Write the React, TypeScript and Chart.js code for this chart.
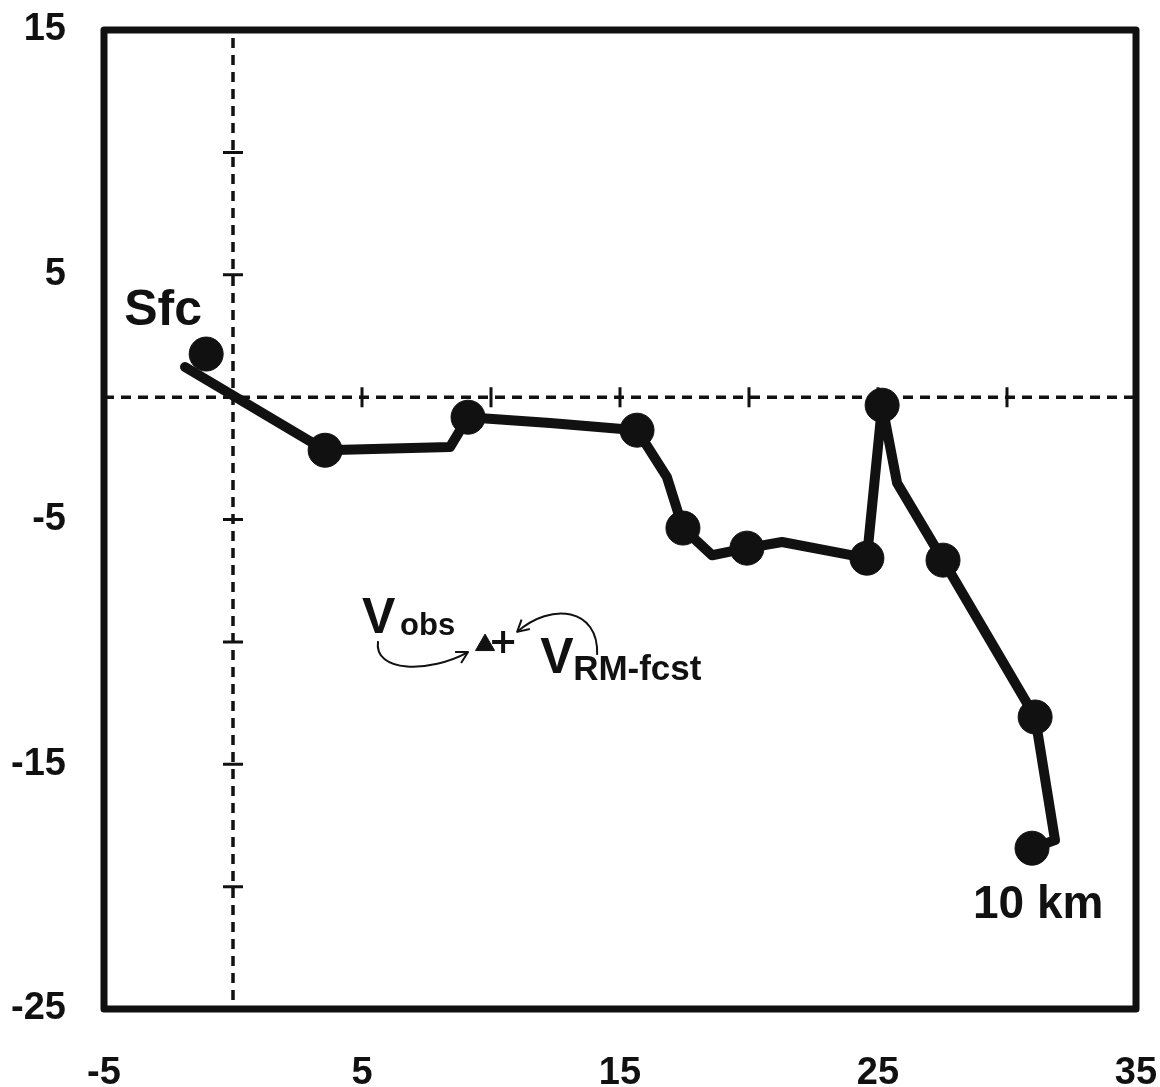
import React, { useEffect, useRef } from "react";
import { Chart, registerables } from "chart.js";

Chart.register(...registerables);

const FONT = '"Liberation Sans", Arial, Helvetica, sans-serif';
const INK = "#111111";

// Hodograph path (u, v in m/s)
const pathU = [-1.86, 3.57, 8.41, 9.11, 12.29, 15.66, 16.82, 17.44, 18.57, 19.92, 21.28, 24.57, 25.16, 25.74, 27.52, 31.09, 31.86, 30.97];
const pathV = [1.23, -2.17, -2.04, -0.82, -1.06, -1.35, -3.27, -5.35, -6.46, -6.17, -5.92, -6.58, -0.33, -3.51, -6.66, -13.07, -18.1, -18.43];

// Level markers
const markerU = [-1.04, 3.57, 9.11, 15.66, 17.44, 19.92, 24.57, 25.16, 27.52, 31.09, 30.97];
const markerV = [1.76, -2.17, -0.82, -1.35, -5.35, -6.17, -6.58, -0.33, -6.66, -13.07, -18.43];

// Storm motions
const obsU = [9.77];
const obsV = [-10.13];
const rmU = [10.47];
const rmV = [-10.0];

// Axis ticks
const xTicks = [-5, 5, 15, 25, 35];
const yTicks = [15, 5, -5, -15, -25];
const axisMarks = [-20, -15, -10, -5, 5, 10, 15, 20, 25, 30];

const toPts = (u: number[], v: number[]) => u.map((x, i) => ({ x, y: v[i] }));

function arrowHead(ctx: CanvasRenderingContext2D, x: number, y: number, fromX: number, fromY: number) {
  const ang = Math.atan2(y - fromY, x - fromX);
  const len = 13;
  const spread = 0.5;
  ctx.beginPath();
  ctx.moveTo(x - len * Math.cos(ang - spread), y - len * Math.sin(ang - spread));
  ctx.lineTo(x, y);
  ctx.lineTo(x - len * Math.cos(ang + spread), y - len * Math.sin(ang + spread));
  ctx.stroke();
}

const decorPlugin = {
  id: "decor",
  beforeDatasetsDraw(chart: any) {
    const { ctx, chartArea: a, scales } = chart;
    const xs = scales.x;
    const ys = scales.y;
    const x0 = xs.getPixelForValue(0);
    const y0 = ys.getPixelForValue(0);
    ctx.save();
    ctx.strokeStyle = INK;
    ctx.lineWidth = 3.5;
    ctx.setLineDash([10, 7]);
    ctx.beginPath();
    ctx.moveTo(x0, a.top + 8);
    ctx.lineTo(x0, a.bottom);
    ctx.moveTo(a.left, y0);
    ctx.lineTo(a.right, y0);
    ctx.stroke();
    ctx.setLineDash([]);
    ctx.lineWidth = 3;
    ctx.beginPath();
    axisMarks.forEach((m) => {
      if (m >= -20 && m <= 10) {
        const py = ys.getPixelForValue(m);
        ctx.moveTo(x0 - 10, py);
        ctx.lineTo(x0 + 10, py);
      }
      if (m >= 5 && m <= 30) {
        const px = xs.getPixelForValue(m);
        ctx.moveTo(px, y0 - 10);
        ctx.lineTo(px, y0 + 10);
      }
    });
    ctx.stroke();
    ctx.restore();
  },
  afterDatasetsDraw(chart: any) {
    const { ctx, chartArea: a, scales } = chart;
    const xs = scales.x;
    const ys = scales.y;
    ctx.save();
    // frame
    ctx.strokeStyle = INK;
    ctx.lineWidth = 7;
    ctx.lineJoin = "round";
    ctx.strokeRect(a.left, a.top, a.right - a.left, a.bottom - a.top);

    ctx.fillStyle = INK;
    ctx.textBaseline = "alphabetic";
    ctx.textAlign = "left";

    // Sfc label
    const sx = xs.getPixelForValue(markerU[0]);
    const sy = ys.getPixelForValue(markerV[0]);
    ctx.font = `bold 50px ${FONT}`;
    ctx.fillText("Sfc", sx - 82, sy - 29);

    // 10 km label
    const n = markerU.length - 1;
    const kx = xs.getPixelForValue(markerU[n]);
    const ky = ys.getPixelForValue(markerV[n]);
    ctx.font = `bold 46px ${FONT}`;
    ctx.fillText("10 km", kx - 59, ky + 70);

    // Vobs
    const ox = xs.getPixelForValue(obsU[0]);
    const oy = ys.getPixelForValue(obsV[0]);
    ctx.font = `bold 50px ${FONT}`;
    ctx.fillText("V", ox - 123, oy - 12);
    ctx.font = `bold 31px ${FONT}`;
    ctx.fillText("obs", ox - 85, oy - 10);

    // VRM-fcst
    const rx = xs.getPixelForValue(rmU[0]);
    const ry = ys.getPixelForValue(rmV[0]);
    ctx.font = `bold 50px ${FONT}`;
    ctx.fillText("V", rx + 37, ry + 31);
    ctx.font = `bold 35px ${FONT}`;
    ctx.fillText("RM-fcst", rx + 70, ry + 38);

    // arrows
    ctx.lineWidth = 2;
    ctx.strokeStyle = INK;
    const a1s = { x: ox - 107, y: oy - 4 };
    const a1c1 = { x: ox - 112, y: oy + 28 };
    const a1c2 = { x: ox - 55, y: oy + 28 };
    const a1e = { x: ox - 17, y: oy + 7 };
    ctx.beginPath();
    ctx.moveTo(a1s.x, a1s.y);
    ctx.bezierCurveTo(a1c1.x, a1c1.y, a1c2.x, a1c2.y, a1e.x, a1e.y);
    ctx.stroke();
    arrowHead(ctx, a1e.x, a1e.y, a1c2.x, a1c2.y);

    const a2s = { x: rx + 94, y: ry + 13 };
    const a2c1 = { x: rx + 96, y: ry - 34 };
    const a2c2 = { x: rx + 48, y: ry - 40 };
    const a2e = { x: rx + 14, y: ry - 10 };
    ctx.beginPath();
    ctx.moveTo(a2s.x, a2s.y);
    ctx.bezierCurveTo(a2c1.x, a2c1.y, a2c2.x, a2c2.y, a2e.x, a2e.y);
    ctx.stroke();
    arrowHead(ctx, a2e.x, a2e.y, a2c2.x, a2c2.y);

    ctx.restore();
  },
};

export default function App() {
  const ref = useRef<HTMLCanvasElement | null>(null);

  useEffect(() => {
    document.body.style.margin = "0";
    document.body.style.background = "#ffffff";
    const canvas = ref.current;
    if (!canvas) return;
    const tickFont = { family: FONT, size: 38, weight: "bold" as const };
    const chart = new Chart(canvas, {
      type: "scatter",
      data: {
        datasets: [
          {
            label: "hodograph",
            data: toPts(pathU, pathV),
            showLine: true,
            borderColor: INK,
            borderWidth: 10,
            borderJoinStyle: "round",
            borderCapStyle: "round",
            pointRadius: 0,
            pointHoverRadius: 0,
            order: 2,
          } as any,
          {
            label: "levels",
            data: toPts(markerU, markerV),
            showLine: false,
            pointStyle: "circle",
            pointRadius: 17,
            backgroundColor: INK,
            borderColor: INK,
            borderWidth: 1,
            order: 1,
          },
          {
            label: "Vobs",
            data: toPts(obsU, obsV),
            showLine: false,
            pointStyle: "triangle",
            pointRadius: 11,
            backgroundColor: INK,
            borderColor: INK,
            borderWidth: 1,
            order: 0,
          },
          {
            label: "VRM-fcst",
            data: toPts(rmU, rmV),
            showLine: false,
            pointStyle: "cross",
            pointRadius: 11,
            backgroundColor: INK,
            borderColor: INK,
            borderWidth: 4,
            order: 0,
          },
        ],
      },
      options: {
        animation: false,
        responsive: false,
        devicePixelRatio: 1,
        events: [],
        layout: { padding: { top: 30, right: 24, left: 0, bottom: 0 }, autoPadding: false },
        plugins: {
          legend: { display: false },
          tooltip: { enabled: false },
          title: { display: false },
        },
        scales: {
          x: {
            type: "linear",
            min: -5,
            max: 35,
            afterBuildTicks: (s: any) => {
              s.ticks = xTicks.map((v) => ({ value: v }));
            },
            afterFit: (s: any) => {
              s.height = 78;
              s.paddingLeft = 0;
              s.paddingRight = 0;
            },
            ticks: {
              font: tickFont,
              color: INK,
              padding: 42,
              maxRotation: 0,
              autoSkip: false,
              callback: (v: any) => String(v),
            },
            grid: { display: false, drawTicks: false },
            border: { display: false },
          },
          y: {
            type: "linear",
            min: -25,
            max: 15,
            afterBuildTicks: (s: any) => {
              s.ticks = yTicks.map((v) => ({ value: v }));
            },
            afterFit: (s: any) => {
              s.width = 104;
              s.paddingTop = 0;
              s.paddingBottom = 0;
            },
            ticks: {
              font: tickFont,
              color: INK,
              padding: 38,
              autoSkip: false,
              callback: (v: any) => String(v),
            },
            grid: { display: false, drawTicks: false },
            border: { display: false },
          },
        },
      },
      plugins: [decorPlugin],
    });
    return () => chart.destroy();
  }, []);

  return (
    <div style={{ width: 1160, height: 1087, background: "#fff" }}>
      <canvas ref={ref} width={1160} height={1087} style={{ display: "block" }} />
    </div>
  );
}
